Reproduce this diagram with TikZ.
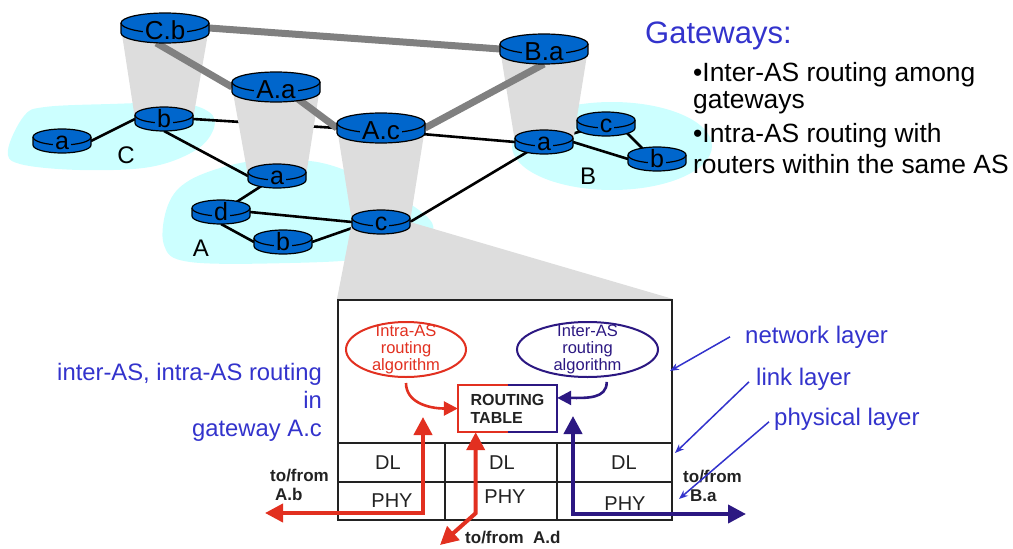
\documentclass[tikz,border=0pt]{standalone}
\usepackage{fontspec}
\setmainfont{Liberation Sans}
\usetikzlibrary{calc,arrows.meta,shapes.geometric}
\pgfdeclarelayer{blob}
\pgfdeclarelayer{links}
\pgfdeclarelayer{cones}
\pgfdeclarelayer{gw}
\pgfsetlayers{blob,links,cones,gw,main}
\definecolor{rblue}{RGB}{0,102,204}
\definecolor{blobc}{RGB}{204,255,255}
\definecolor{conec}{RGB}{221,221,221}
\definecolor{gwc}{RGB}{128,128,128}
\definecolor{tblue}{RGB}{51,51,204}
\definecolor{myred}{RGB}{226,48,32}
\definecolor{navy}{RGB}{44,24,130}
\definecolor{boxc}{RGB}{34,34,34}
\newcommand\setfs[2]{\fontsize{#1}{#2}\selectfont}
\tikzset{
  rline/.style={black, line width=1.2pt},
  rlab/.style={anchor=base, fill=rblue, inner xsep=2pt, inner ysep=0pt, text=black},
  link/.style={black, line width=2.6pt},
  gwlink/.style={gwc, line width=7pt},
  txt/.style={inner sep=0pt, anchor=base west},
  bigarr/.style={line width=4pt, {Triangle[length=18pt,width=18pt]}-{Triangle[length=18pt,width=18pt]}},
  thinarr/.style={tblue, line width=1.5pt, -{Stealth[length=9pt,width=7pt]}},
  cell/.style={inner sep=0pt, text=boxc, font=\setfs{20}{20}},
  tofrom/.style={inner sep=0pt, anchor=base west, font=\bfseries\setfs{17}{17}, text=boxc},
}
% #1 name, #2 x, #3 y0 (top ellipse centre), #4 rx, #5 ry, #6 side height, #7 label, #8 font size
\newcommand\router[8]{%
  \node[inner sep=0pt, outer sep=0pt, minimum width={2*#4*1pt}, minimum height={(2*#5+#6)*1pt}] (#1) at (#2,{#3+#6/2}) {};
  \fill[rblue] ({#2-#4},#3) -- ({#2-#4},{#3+#6}) arc[start angle=180, end angle=0, x radius=#4, y radius=#5] -- ({#2+#4},#3) -- cycle;
  \fill[rblue] (#2,#3) ellipse[x radius=#4, y radius=#5];
  \draw[rline] ({#2-#4},#3) -- ({#2-#4},{#3+#6}) arc[start angle=180, end angle=0, x radius=#4, y radius=#5] -- ({#2+#4},#3);
  \draw[rline] (#2,#3) ellipse[x radius=#4, y radius=#5];
  \node[rlab, font=\setfs{#8}{#8}] (#1-l) at (#2,{#3+#5+0.6*#6}) {#7};
}
\begin{document}
\begin{tikzpicture}[x=1pt,y=-1pt]
\useasboundingbox (0,0) rectangle (1013,549);

% routers
\router{Cb}{165}{23}{44}{10}{10}{C.b}{26}
\router{Aa}{276}{82}{44}{10}{10}{A.a}{26}
\router{Ac}{381}{123}{44}{10}{10}{A.c}{26}
\router{Ba}{544}{44}{44}{10}{10}{B.a}{26}
\router{Cbs}{164}{115}{29}{8}{8}{b}{25}
\router{Ca}{62}{137}{29}{8}{8}{a}{25}
\router{Aas}{277}{172}{29}{8}{8}{a}{25}
\router{Ad}{221}{208}{29}{8}{8}{d}{25}
\router{Ab}{283}{238}{29}{8}{8}{b}{25}
\router{Acs}{381}{218}{29}{8}{8}{c}{25}
\router{Bas}{544}{138}{29}{8}{8}{a}{25}
\router{Bc}{606}{120}{29}{8}{8}{c}{25}
\router{Bb}{657}{155}{29}{8}{8}{b}{25}

% AS labels
\node[inner sep=0pt, font=\setfs{24}{24}] (labC) at (126,155) {C};
\node[inner sep=0pt, font=\setfs{24}{24}] (labA) at (201,248) {A};
\node[inner sep=0pt, font=\setfs{24}{24}] (labB) at (588,176) {B};

% routing box
\node[draw=boxc, line width=2pt, fill=white, minimum width=334pt, minimum height=220pt, inner sep=0pt] (box) at (505,410) {};
\draw[boxc, line width=1.5pt] (338,443) -- (672,443);
\draw[boxc, line width=1.5pt] (338,482) -- (672,482);
\draw[boxc, line width=1.5pt] (445,443) -- (445,520);
\draw[boxc, line width=1.5pt] (557,443) -- (557,520);
\node[cell] (dl1) at (388,463) {DL};
\node[cell] (dl2) at (502,463) {DL};
\node[cell] (dl3) at (624,463) {DL};
\node[cell] (ph1) at (392,501) {PHY};
\node[cell] (ph2) at (505,497) {PHY};
\node[cell] (ph3) at (625,504) {PHY};

\node[ellipse, draw=myred, line width=2pt, minimum width=120pt, minimum height=55pt, inner sep=0pt] (ei) at (406,349.5) {};
\node[inner sep=0pt, align=center, text=myred, font=\setfs{16.5}{17}] (eit) at (ei.center) {Intra-AS\\routing\\algorithm};
\node[ellipse, draw=navy, line width=2pt, minimum width=141pt, minimum height=55pt, inner sep=0pt] (eo) at (587.5,349.5) {};
\node[inner sep=0pt, align=center, text=navy, font=\setfs{16.5}{17}] (eot) at (eo.center) {Inter-AS\\routing\\algorithm};

\node[minimum width=99pt, minimum height=47pt, inner sep=0pt, align=left, font=\bfseries\setfs{16}{18}, text=boxc] (rt) at (507.5,408.5) {ROUTING\\TABLE};
\draw[myred, line width=2.5pt] (rt.north) -- (rt.north west) -- (rt.south west) -- (rt.south);
\draw[navy, line width=2.5pt] (rt.north) -- (rt.north east) -- (rt.south east) -- (rt.south);

\draw[myred, line width=2.6pt, -{Triangle[length=14pt,width=14pt]}, shorten <=5pt] (ei.south) .. controls +(0,24) and +(-30,0) .. (rt.west);
\draw[navy, line width=2.6pt, -{Triangle[length=14pt,width=14pt]}, shorten <=5pt] (eo.-55) .. controls +(0,22) and +(30,0) .. (rt.12);

% big arrows
\coordinate (AbEnd) at (265,513);
\coordinate (AbTop) at (423,417);
\draw[bigarr, myred] (AbEnd) -| (AbTop);
\coordinate (AdEnd) at (440,545);
\draw[bigarr, myred] ($(rt.south west)!0.18!(rt.south east)$) -- ++(0,81) -- (AdEnd);
\coordinate (BaTop) at (573,416);
\coordinate (BaEnd) at (746,514);
\draw[bigarr, navy] (BaTop) |- (BaEnd);

\node[tofrom] (tfAb1) at (270,481) {to/from};
\node[tofrom] (tfAb2) at (275,500) {A.b};
\node[tofrom] (tfBa1) at (683,482) {to/from};
\node[tofrom] (tfBa2) at (690,501) {B.a};
\node[tofrom] (tfAd) at (465,543) {to/from\ \ A.d};

% blue side texts
\node[inner sep=0pt, anchor=base east, text=tblue, font=\setfs{23.8}{23.8}] (ia1) at (322,380) {inter-AS, intra-AS routing};
\node[inner sep=0pt, anchor=base east, text=tblue, font=\setfs{23.8}{23.8}] (ia2) at (322,408) {in};
\node[inner sep=0pt, anchor=base east, text=tblue, font=\setfs{23.8}{23.8}] (ia3) at (322,436) {gateway A.c};

\node[txt, text=tblue, font=\setfs{24}{24}] (nl) at (745,343) {network layer};
\node[txt, text=tblue, font=\setfs{24}{24}] (ll) at (756,385) {link layer};
\node[txt, text=tblue, font=\setfs{24}{24}] (pl) at (774,425) {physical layer};
\coordinate (nlT) at (670,371);
\coordinate (llT) at (675,453);
\coordinate (plT) at (679,499);
\draw[thinarr] ([xshift=-15pt]nl.west) -- (nlT);
\draw[thinarr] ([xshift=-7pt,yshift=-3pt]ll.west) -- (llT);
\draw[thinarr] ([xshift=-5pt,yshift=-3pt]pl.west) -- (plT);

% gateways text
\node[txt, text=tblue, font=\setfs{31}{31}] (gwt) at (645,43) {Gateways:};
\node[txt, font=\setfs{26.4}{26.4}] (g1) at (693,81) {•Inter-AS routing among};
\node[txt, font=\setfs{26.4}{26.4}] (g2) at (693,108) {gateways};
\node[txt, font=\setfs{26.4}{26.4}] (g3) at (693,142) {•Intra-AS routing with};
\node[txt, font=\setfs{26.4}{26.4}] (g4) at (693,173) {routers within the same AS};

\begin{pgfonlayer}{blob}
\fill[blobc] plot[smooth cycle, tension=0.6] coordinates {(8,150) (24,116) (45,107) (110,104) (178,103) (209,112) (214,128) (196,150) (150,167) (80,170) (20,164)};
\fill[blobc] plot[smooth cycle, tension=0.6] coordinates {(164,245) (168,205) (190,180) (240,163) (290,160) (330,165) (380,186) (424,214) (433,231) (415,243) (370,258) (290,263) (190,262)};
\fill[blobc] (612,146) ellipse[x radius=100, y radius=44];
\end{pgfonlayer}

\begin{pgfonlayer}{links}
\draw[link] (Ca.east) -- (Cbs.west);
\draw[link] (Cbs.east) -- (Ac.west);
\draw[link] (Cbs.south) -- (Aas.west);
\draw[link] (Aas.center) -- (Ad.center);
\draw[link] (Ad.east) -- (Acs.west);
\draw[link] (Ad.south) -- (Ab.west);
\draw[link] (Ab.east) -- ($(Acs.west)+(3,5)$);
\draw[link] (Acs.east) -- (Bas.center);
\draw[link] ($(Ac.east)+(-3,6)$) -- (Bas.west);
\draw[link] (Bas.center) -- (Bc.center);
\draw[link] (Bas.east) -- (Bb.west);
\draw[link] ($(Bc.center)+(12,0)$) -- ($(Bb.center)+(-4,0)$);
\end{pgfonlayer}

\begin{pgfonlayer}{cones}
\fill[conec] (Cb.west) -- (Cb.east) -- (Cbs.east) -- (Cbs.west) -- cycle;
\fill[conec] (Aa.west) -- (Aa.east) -- (Aas.east) -- (Aas.west) -- cycle;
\fill[conec] (Ac.west) -- (Ac.east) -- (Acs.east) -- (Acs.west) -- cycle;
\fill[conec] (Ba.west) -- (Ba.east) -- (Bas.east) -- (Bas.west) -- cycle;
\fill[conec] (Acs.west) -- (Acs.east) -- (box.north east) -- (box.north west) -- cycle;
\end{pgfonlayer}

\begin{pgfonlayer}{gw}
\draw[gwlink] (Cb.east) -- (Ba.west);
\draw[gwlink] (Cb.240) -- (Aa.west);
\draw[gwlink] ($(Aa.south)!0.5!(Aa.south east)+(0,-3)$) -- (Ac.west);
\draw[gwlink] (Ac.east) -- (Ba.south);
\end{pgfonlayer}
\end{tikzpicture}
\end{document}
